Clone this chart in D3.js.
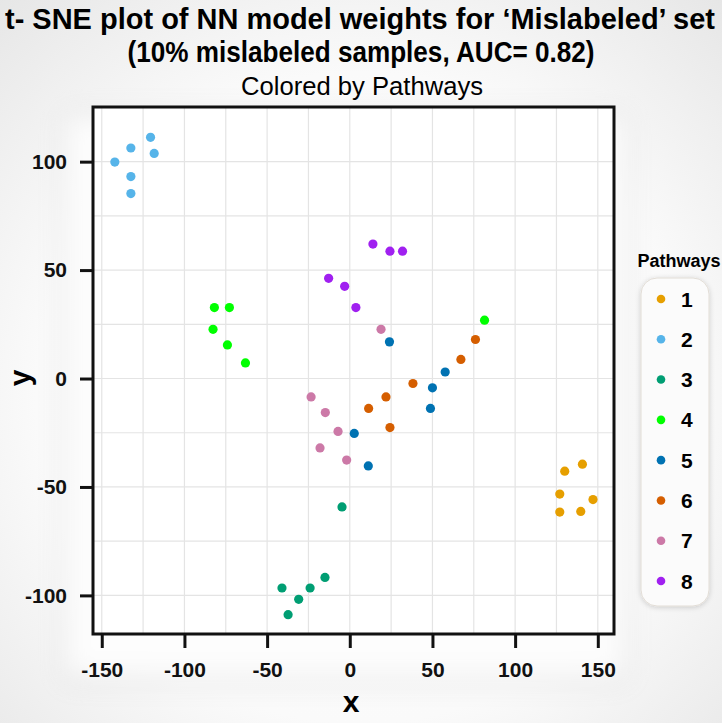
<!DOCTYPE html>
<html>
<head>
<meta charset="utf-8">
<script src="https://cdn.jsdelivr.net/npm/d3@7"></script>
<style>
  body { margin: 0; }
  svg { display: block; font-family: "Liberation Sans", Arial, sans-serif; }
</style>
</head>
<body>
<svg id="tsne"></svg>
<script>
// pathway labels and colours
const pathways = ["1", "2", "3", "4", "5", "6", "7", "8"];
const pathwayColors = ["#E69F00", "#56B4E9", "#009E73", "#00FF00", "#0072B2", "#D55E00", "#CC79A7", "#A020F0"];

// t-SNE coordinates
const xs = [
  140.7, 130.0, 127.0, 147.1, 127.0, 139.7,
  -120.5, -132.4, -118.3, -142.1, -132.4, -132.4,
  -4.7, -15.0, -41.0, -24.0, -30.9, -37.3,
  -81.9, -72.8, -82.7, -74.0, -63.1, 81.5,
  24.0, 57.7, 50.0, 48.8, 2.7, 11.2,
  76.0, 67.2, 38.2, 21.9, 11.4, 24.3,
  18.9, -23.4, -14.8, -7.1, -18.0, -1.9,
  14.0, 24.3, 31.9, -12.8, -3.1, 3.7
];
const ys = [
  -39.5, -42.7, -53.3, -55.8, -61.6, -61.3,
  111.2, 106.3, 103.8, 99.8, 93.1, 85.3,
  -59.2, -91.7, -96.6, -96.6, -101.8, -108.9,
  32.7, 32.7, 22.7, 15.5, 7.2, 26.9,
  16.9, 3.0, -4.3, -13.8, -25.3, -40.3,
  18.0, 8.8, -2.3, -8.5, -13.8, -22.6,
  22.7, -8.5, -15.7, -24.4, -32.0, -37.6,
  62.0, 58.7, 58.7, 46.2, 42.5, 32.7
];
const groups = [
  "1", "1", "1", "1", "1", "1",
  "2", "2", "2", "2", "2", "2",
  "3", "3", "3", "3", "3", "3",
  "4", "4", "4", "4", "4", "4",
  "5", "5", "5", "5", "5", "5",
  "6", "6", "6", "6", "6", "6",
  "7", "7", "7", "7", "7", "7",
  "8", "8", "8", "8", "8", "8"
];
const xTicks = [-150, -100, -50, 0, 50, 100, 150];
const yTicks = [-100, -50, 0, 50, 100];

const points = xs.map((x, i) => ({ x: x, y: ys[i], g: groups[i] }));

const W = 722, H = 723;
const panel = { left: 93, top: 107, right: 614, bottom: 634 };

const svg = d3.select("#tsne").attr("width", W).attr("height", H);

// soft grey background with a faint halo around the plot
const defs = svg.append("defs");
const bg = defs.append("radialGradient").attr("id", "bg")
  .attr("cx", "50%").attr("cy", "55%").attr("r", "75%");
bg.append("stop").attr("offset", "0%").attr("stop-color", "#ffffff");
bg.append("stop").attr("offset", "60%").attr("stop-color", "#fafafa");
bg.append("stop").attr("offset", "100%").attr("stop-color", "#e6e6e6");
svg.append("rect").attr("width", W).attr("height", H).attr("fill", "url(#bg)");

const halo = defs.append("filter").attr("id", "halo")
  .attr("x", "-20%").attr("y", "-20%").attr("width", "140%").attr("height", "140%");
halo.append("feGaussianBlur").attr("stdDeviation", 14);
svg.append("rect")
  .attr("x", 60).attr("y", 110).attr("width", 570).attr("height", 575)
  .attr("fill", "#000").attr("opacity", 0.07)
  .attr("filter", "url(#halo)");
svg.append("rect")
  .attr("x", 62).attr("y", 112).attr("width", 566).attr("height", 568)
  .attr("fill", "#fdfdfd").attr("filter", "url(#halo)");

const x = d3.scaleLinear().domain([-155.3, 159.8]).range([panel.left, panel.right]);
const y = d3.scaleLinear().domain([-117.8, 125.2]).range([panel.bottom, panel.top]);
const color = d3.scaleOrdinal().domain(pathways).range(pathwayColors);

// panel
svg.append("rect")
  .attr("x", panel.left).attr("y", panel.top)
  .attr("width", panel.right - panel.left).attr("height", panel.bottom - panel.top)
  .attr("fill", "white");

// grid lines (every 25)
const gx = d3.range(-150, 151, 25), gy = d3.range(-100, 101, 25);
svg.append("g").selectAll("line").data(gx).join("line")
  .attr("x1", d => x(d)).attr("x2", d => x(d))
  .attr("y1", panel.top).attr("y2", panel.bottom)
  .attr("stroke", "#e4e4e4").attr("stroke-width", 1.2);
svg.append("g").selectAll("line").data(gy).join("line")
  .attr("y1", d => y(d)).attr("y2", d => y(d))
  .attr("x1", panel.left).attr("x2", panel.right)
  .attr("stroke", "#e4e4e4").attr("stroke-width", 1.2);

// points
svg.append("g").selectAll("circle").data(points).join("circle")
  .attr("cx", d => x(d.x)).attr("cy", d => y(d.y))
  .attr("r", 4.6)
  .attr("fill", d => color(d.g));

// border
svg.append("rect")
  .attr("x", panel.left).attr("y", panel.top)
  .attr("width", panel.right - panel.left).attr("height", panel.bottom - panel.top)
  .attr("fill", "none").attr("stroke", "#111").attr("stroke-width", 3);

// axes (plain hyphen for negatives, like the original)
const fmt = d => String(d);
const xAxis = svg.append("g")
  .attr("transform", `translate(0,${panel.bottom})`)
  .call(d3.axisBottom(x).tickValues(xTicks).tickFormat(fmt).tickSize(14).tickPadding(14));
const yAxis = svg.append("g")
  .attr("transform", `translate(${panel.left},0)`)
  .call(d3.axisLeft(y).tickValues(yTicks).tickFormat(fmt).tickSize(13).tickPadding(13));
[xAxis, yAxis].forEach(a => {
  a.select(".domain").remove();
  a.selectAll(".tick line").attr("stroke", "#111").attr("stroke-width", 3);
  a.selectAll(".tick text")
    .attr("fill", "#111")
    .attr("font-size", "21px")
    .attr("font-weight", "bold")
    .attr("font-family", "'Liberation Sans', Arial, sans-serif");
});

// titles
svg.append("text")
  .attr("x", 360).attr("y", 29)
  .attr("text-anchor", "middle")
  .attr("font-size", "29px").attr("font-weight", "bold")
  .attr("textLength", 710).attr("lengthAdjust", "spacingAndGlyphs")
  .text("t- SNE plot of NN model weights for \u2018Mislabeled\u2019 set");
svg.append("text")
  .attr("x", 361).attr("y", 62)
  .attr("text-anchor", "middle")
  .attr("font-size", "29px").attr("font-weight", "bold")
  .attr("textLength", 467).attr("lengthAdjust", "spacingAndGlyphs")
  .text("(10% mislabeled samples, AUC= 0.82)");
svg.append("text")
  .attr("x", 362).attr("y", 95)
  .attr("text-anchor", "middle")
  .attr("font-size", "25px")
  .attr("textLength", 242).attr("lengthAdjust", "spacingAndGlyphs")
  .text("Colored by Pathways");

// axis titles
svg.append("text")
  .attr("x", 351).attr("y", 712)
  .attr("text-anchor", "middle")
  .attr("font-size", "30px").attr("font-weight", "bold")
  .text("x");
svg.append("text")
  .attr("transform", "translate(30,378) rotate(-90)")
  .attr("text-anchor", "middle")
  .attr("font-size", "30px").attr("font-weight", "bold")
  .text("y");

// legend
svg.append("text")
  .attr("x", 679).attr("y", 267)
  .attr("text-anchor", "middle")
  .attr("font-size", "18px").attr("font-weight", "bold")
  .text("Pathways");

const shadow = defs.append("filter").attr("id", "soft")
  .attr("x", "-20%").attr("y", "-10%").attr("width", "140%").attr("height", "120%");
shadow.append("feGaussianBlur").attr("in", "SourceAlpha").attr("stdDeviation", 2.5);
shadow.append("feOffset").attr("dx", 0).attr("dy", 1).attr("result", "blur");
shadow.append("feFlood").attr("flood-color", "#000").attr("flood-opacity", 0.18);
shadow.append("feComposite").attr("in2", "blur").attr("operator", "in");
const merge = shadow.append("feMerge");
merge.append("feMergeNode");
merge.append("feMergeNode").attr("in", "SourceGraphic");

svg.append("rect")
  .attr("x", 641).attr("y", 278)
  .attr("width", 68).attr("height", 328)
  .attr("rx", 16).attr("ry", 16)
  .attr("fill", "#fbfbfb").attr("stroke", "#e2ddd6").attr("stroke-width", 1)
  .attr("filter", "url(#soft)");

const ly = d3.scalePoint().domain(pathways).range([299, 581]);
const legend = svg.append("g").selectAll("g").data(pathways).join("g")
  .attr("transform", d => `translate(0,${ly(d)})`);
legend.append("circle")
  .attr("cx", 661).attr("cy", 0).attr("r", 4.3)
  .attr("fill", d => color(d));
legend.append("text")
  .attr("x", 681).attr("y", 7.5)
  .attr("font-size", "21px").attr("font-weight", "bold")
  .text(d => d);
</script>
</body>
</html>
